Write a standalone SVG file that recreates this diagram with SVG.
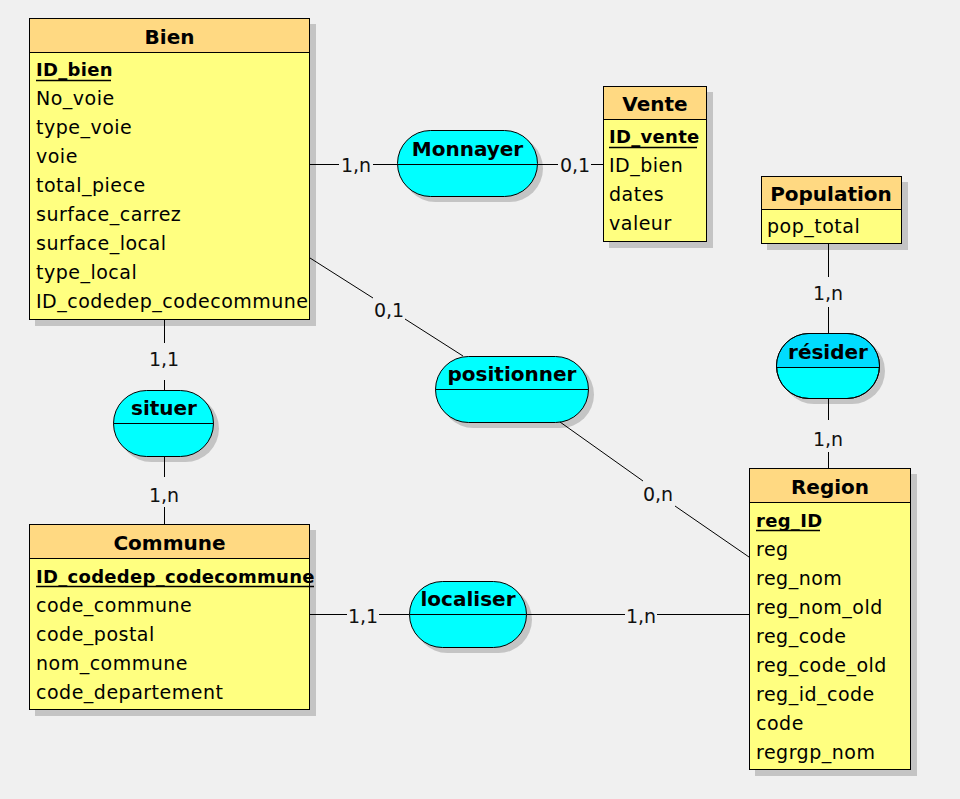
<svg xmlns="http://www.w3.org/2000/svg" width="960" height="799" viewBox="0 0 960 799">
<style>
.bg{fill:#f0f0f0}
.shadow{fill:#c4c4c4}
.eh{fill:#ffd982;stroke:#000;stroke-width:1}
.eb{fill:#ffff80;stroke:#000;stroke-width:1}
.rel{fill:#00ffff;stroke:#000;stroke-width:1}
.reltop{fill:#00dcff}
.sep{stroke:#000;stroke-width:1;fill:none}
.ul{stroke:#000;stroke-width:1.3;fill:none}
.conn line{stroke:#000;stroke-width:1;fill:none}
text{font-family:"DejaVu Sans","Liberation Sans",sans-serif;fill:#000}
.title{font-size:20px;font-weight:bold;text-anchor:middle}
.attr{font-size:19px;letter-spacing:0.5px}
.pk{font-size:18px;font-weight:bold;letter-spacing:0.3px}
.lbl{font-size:19px;text-anchor:middle;fill:#111}
</style>
<rect class="bg" x="0" y="0" width="960" height="799"/>

<g id="Bien">
  <rect class="shadow" x="35" y="24" width="281" height="302"/>
  <rect class="eb" x="29.5" y="18.5" width="280" height="301"/>
  <rect class="eh" x="29.5" y="18.5" width="280" height="34"/>
  <text class="title" x="169.5" y="44">Bien</text>
  <text class="pk" x="36" y="76">ID_bien</text>
  <line class="ul" x1="36" y1="80.5" x2="111" y2="80.5"/>
  <text class="attr" x="36" y="105">No_voie</text>
  <text class="attr" x="36" y="134">type_voie</text>
  <text class="attr" x="36" y="163">voie</text>
  <text class="attr" x="36" y="192">total_piece</text>
  <text class="attr" x="36" y="221">surface_carrez</text>
  <text class="attr" x="36" y="250">surface_local</text>
  <text class="attr" x="36" y="279">type_local</text>
  <text class="attr" x="36" y="308">ID_codedep_codecommune</text>
</g>

<g id="Vente">
  <rect class="shadow" x="609" y="92" width="104" height="156"/>
  <rect class="eb" x="603.5" y="86.5" width="103" height="155"/>
  <rect class="eh" x="603.5" y="86.5" width="103" height="33"/>
  <text class="title" x="655" y="111">Vente</text>
  <text class="pk" x="609" y="143">ID_vente</text>
  <line class="ul" x1="609" y1="147.5" x2="697" y2="147.5"/>
  <text class="attr" x="609" y="172">ID_bien</text>
  <text class="attr" x="609" y="201">dates</text>
  <text class="attr" x="609" y="230">valeur</text>
</g>

<g id="Population">
  <rect class="shadow" x="767" y="182" width="141" height="68"/>
  <rect class="eb" x="761.5" y="176.5" width="140" height="67"/>
  <rect class="eh" x="761.5" y="176.5" width="140" height="33"/>
  <text class="title" x="831" y="201">Population</text>
  <text class="attr" x="767" y="233">pop_total</text>
</g>

<g id="Region">
  <rect class="shadow" x="755" y="474" width="162" height="302"/>
  <rect class="eb" x="749.5" y="468.5" width="161" height="301"/>
  <rect class="eh" x="749.5" y="468.5" width="161" height="34"/>
  <text class="title" x="830" y="494">Region</text>
  <text class="pk" x="756" y="527">reg_ID</text>
  <line class="ul" x1="756" y1="530.5" x2="820" y2="530.5"/>
  <text class="attr" x="756" y="556">reg</text>
  <text class="attr" x="756" y="585">reg_nom</text>
  <text class="attr" x="756" y="614">reg_nom_old</text>
  <text class="attr" x="756" y="643">reg_code</text>
  <text class="attr" x="756" y="672">reg_code_old</text>
  <text class="attr" x="756" y="701">reg_id_code</text>
  <text class="attr" x="756" y="730">code</text>
  <text class="attr" x="756" y="759">regrgp_nom</text>
</g>

<g id="Commune">
  <rect class="shadow" x="35" y="530" width="281" height="186"/>
  <rect class="eb" x="29.5" y="524.5" width="280" height="185"/>
  <rect class="eh" x="29.5" y="524.5" width="280" height="34"/>
  <text class="title" x="169.5" y="550">Commune</text>
  <text class="pk" x="36" y="583">ID_codedep_codecommune</text>
  <line class="ul" x1="36" y1="586.5" x2="314" y2="586.5"/>
  <text class="attr" x="36" y="612">code_commune</text>
  <text class="attr" x="36" y="641">code_postal</text>
  <text class="attr" x="36" y="670">nom_commune</text>
  <text class="attr" x="36" y="699">code_departement</text>
</g>

<g id="Monnayer">
  <rect class="shadow" x="402" y="135" width="141" height="67" rx="33.5"/>
  <rect class="rel" x="397.5" y="130.5" width="140" height="66" rx="33"/>
  <line class="sep" x1="397.5" y1="164.5" x2="537.5" y2="164.5"/>
  <text class="title" x="467.5" y="156">Monnayer</text>
</g>

<g id="positionner">
  <rect class="shadow" x="440" y="361" width="154" height="67" rx="33.5"/>
  <rect class="rel" x="435.5" y="356.5" width="153" height="66" rx="33"/>
  <line class="sep" x1="435.5" y1="389.5" x2="588.5" y2="389.5"/>
  <text class="title" x="512" y="381">positionner</text>
</g>

<g id="localiser">
  <rect class="shadow" x="414" y="586" width="118" height="67" rx="33.5"/>
  <rect class="rel" x="409.5" y="581.5" width="117" height="66" rx="33"/>
  <line class="sep" x1="409.5" y1="614.5" x2="526.5" y2="614.5"/>
  <text class="title" x="468" y="606">localiser</text>
</g>

<g id="situer">
  <rect class="shadow" x="118" y="395" width="101" height="67" rx="33.5"/>
  <rect class="rel" x="113.5" y="390.5" width="100" height="66" rx="33"/>
  <line class="sep" x1="113.5" y1="423.5" x2="213.5" y2="423.5"/>
  <text class="title" x="164" y="415">situer</text>
</g>

<g id="resider">
  <rect class="shadow" x="781" y="338" width="104" height="66" rx="33"/>
  <rect class="rel" x="776.5" y="333.5" width="103" height="65" rx="32.5"/>
  <path class="reltop" d="M777,367 A32.5,32.5 0 0 1 809,334 H847 A32.5,32.5 0 0 1 879,367 Z"/>
  <rect x="776.5" y="333.5" width="103" height="65" rx="32.5" fill="none" stroke="#000" stroke-width="1"/>
  <line class="sep" x1="776.5" y1="367.5" x2="879.5" y2="367.5"/>
  <text class="title" x="828" y="359">résider</text>
</g>

<g class="conn" id="connectors">
  <line x1="310" y1="164.5" x2="339" y2="164.5"/>
  <line x1="373" y1="164.5" x2="397" y2="164.5"/>
  <text class="lbl" x="356" y="172">1,n</text>
  <line x1="538" y1="164.5" x2="558" y2="164.5"/>
  <line x1="591" y1="164.5" x2="603" y2="164.5"/>
  <text class="lbl" x="575" y="172">0,1</text>
  <line x1="310" y1="258" x2="373" y2="298"/>
  <line x1="405" y1="319" x2="463" y2="356"/>
  <text class="lbl" x="389" y="317">0,1</text>
  <line x1="560" y1="422" x2="643" y2="481"/>
  <line x1="675" y1="506" x2="749" y2="557"/>
  <text class="lbl" x="658" y="501">0,n</text>
  <line x1="164.5" y1="320" x2="164.5" y2="343"/>
  <line x1="164.5" y1="380" x2="164.5" y2="390"/>
  <text class="lbl" x="164" y="366">1,1</text>
  <line x1="164.5" y1="457" x2="164.5" y2="477"/>
  <line x1="164.5" y1="507" x2="164.5" y2="524"/>
  <text class="lbl" x="164" y="502">1,n</text>
  <line x1="310" y1="614.5" x2="347" y2="614.5"/>
  <line x1="379" y1="614.5" x2="409" y2="614.5"/>
  <text class="lbl" x="363" y="623">1,1</text>
  <line x1="527" y1="614.5" x2="625" y2="614.5"/>
  <line x1="657" y1="614.5" x2="749" y2="614.5"/>
  <text class="lbl" x="641" y="623">1,n</text>
  <line x1="828.5" y1="244" x2="828.5" y2="277"/>
  <line x1="828.5" y1="307" x2="828.5" y2="333"/>
  <text class="lbl" x="828" y="300">1,n</text>
  <line x1="828.5" y1="399" x2="828.5" y2="420"/>
  <line x1="828.5" y1="452" x2="828.5" y2="468"/>
  <text class="lbl" x="828" y="446">1,n</text>
</g>
</svg>
